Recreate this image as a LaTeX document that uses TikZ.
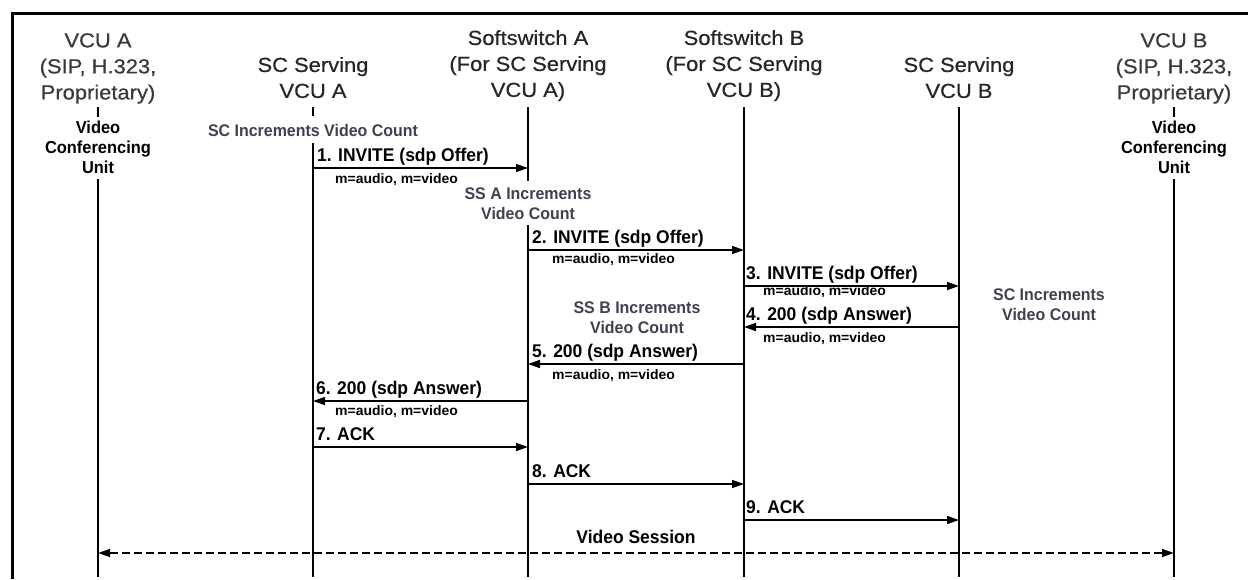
\documentclass[tikz,border=0pt]{standalone}
\usepackage{fontspec}
\setmainfont{Liberation Sans}
\newfontfamily\hdrfont[FakeStretch=1.08,FakeBold=0.6]{Liberation Sans}
\newfontfamily\sdpfontfam[FakeStretch=1.02]{Liberation Sans}
\newfontfamily\condfont[FakeStretch=0.95]{Liberation Sans}
\usetikzlibrary{arrows.meta}
\definecolor{hdrgray}{HTML}{262626}
\definecolor{vcugray}{HTML}{3A3A3A}
\definecolor{incgray}{HTML}{3E4250}
\tikzset{
 hdr/.style={font=\hdrfont\fontsize{20.3}{26}\selectfont, text=hdrgray, align=center, anchor=north, inner sep=0pt},
 unitlbl/.style={font=\condfont\bfseries\fontsize{17.3}{20}\selectfont, align=center, anchor=north, inner sep=0pt},
 inc/.style={font=\condfont\bfseries\fontsize{16.8}{19.5}\selectfont, text=incgray, align=center, anchor=north, inner sep=0pt},
 msglbl/.style={font=\condfont\bfseries\fontsize{18.4}{20}\selectfont, anchor=base west, inner sep=0pt},
 sdp/.style={font=\sdpfontfam\bfseries\fontsize{13.7}{14}\selectfont, anchor=base west, inner sep=0pt},
 life/.style={line width=1.6pt},
 msg/.style={line width=1.6pt, -{Triangle[length=12pt,width=8pt]}},
 sess/.style={line width=1.6pt, dash pattern=on 8pt off 4pt, {Triangle[length=12pt,width=8pt]}-{Triangle[length=12pt,width=8pt]}},
 frame/.style={line width=3pt}
}
\begin{document}
\begin{tikzpicture}[x=1pt,y=-1pt]
\useasboundingbox (0,0) rectangle (1248,579);
% frame
\coordinate (fBL) at (12,579);
\coordinate (fTL) at (12,13);
\coordinate (fTR) at (1248,13);
\draw[frame] (fBL) -- (fTL) -- (fTR);

% headers
\node[hdr, text=vcugray] (hVA) at (98,33) {VCU A\\(SIP, H.323,\\Proprietary)};
\node[hdr] (hSA) at (313,57) {SC Serving\\VCU A};
\node[hdr] (hWA) at (528,30) {Softswitch A\\(For SC Serving\\VCU A)};
\node[hdr] (hWB) at (744,30) {Softswitch B\\(For SC Serving\\VCU B)};
\node[hdr] (hSB) at (959,57) {SC Serving\\VCU B};
\node[hdr, text=vcugray] (hVB) at (1174,33) {VCU B\\(SIP, H.323,\\Proprietary)};

% unit labels and increment notes
\node[unitlbl] (uA) at (98,121) {Video\\Conferencing\\Unit};
\node[unitlbl] (uB) at (1174,121) {Video\\Conferencing\\Unit};
\node[inc] (iSA) at (313,124) {SC Increments Video Count};
\node[inc] (iWA) at (528,188) {SS A Increments\\Video Count};
\node[inc] (iWB) at (637,302) {SS B Increments\\Video Count};
\node[inc] (iSB) at (1049,289) {SC Increments\\Video Count};

% lifeline coordinates
\coordinate (vA0) at (98,107);  \coordinate (vA1) at (98,117);  \coordinate (vA2) at (98,179);  \coordinate (vAe) at (98,577);
\coordinate (sA0) at (313,107); \coordinate (sA1) at (313,116); \coordinate (sA2) at (313,143); \coordinate (sAe) at (313,577);
\coordinate (wA0) at (528,107); \coordinate (wA1) at (528,181); \coordinate (wA2) at (528,225); \coordinate (wAe) at (528,577);
\coordinate (wB0) at (744,107); \coordinate (wBe) at (744,577);
\coordinate (sB0) at (959,107); \coordinate (sBe) at (959,577);
\coordinate (vB0) at (1174,107); \coordinate (vB1) at (1174,117); \coordinate (vB2) at (1174,179); \coordinate (vBe) at (1174,577);

\draw[life] (vA0) -- (vA1);
\draw[life] (vA2) -- (vAe);
\draw[life] (sA0) -- (sA1);
\draw[life] (sA2) -- (sAe);
\draw[life] (wA0) -- (wA1);
\draw[life] (wA2) -- (wAe);
\draw[life] (wB0) -- (wBe);
\draw[life] (sB0) -- (sBe);
\draw[life] (vB0) -- (vB1);
\draw[life] (vB2) -- (vBe);

% message levels
\coordinate (y1) at (0,168);
\coordinate (y2) at (0,250);
\coordinate (y3) at (0,286);
\coordinate (y4) at (0,327);
\coordinate (y5) at (0,364);
\coordinate (y6) at (0,401);
\coordinate (y7) at (0,447);
\coordinate (y8) at (0,484);
\coordinate (y9) at (0,520);
\coordinate (ys) at (0,553);

\draw[msg] (sA0 |- y1) -- (wA0 |- y1);
\node[msglbl] (l1) at (317,161) {1. INVITE (sdp Offer)};
\node[sdp] (s1) at (335,183) {m=audio, m=video};

\draw[msg] (wA0 |- y2) -- (wB0 |- y2);
\node[msglbl] (l2) at (532,243) {2. INVITE (sdp Offer)};
\node[sdp] (s2) at (552,263) {m=audio, m=video};

\draw[msg] (wB0 |- y3) -- (sB0 |- y3);
\node[msglbl] (l3) at (746,279) {3. INVITE (sdp Offer)};
\node[sdp] (s3) at (763,295) {m=audio, m=video};

\draw[msg] (sB0 |- y4) -- (wB0 |- y4);
\node[msglbl] (l4) at (746,320) {4. 200 (sdp Answer)};
\node[sdp] (s4) at (763,342) {m=audio, m=video};

\draw[msg] (wB0 |- y5) -- (wA0 |- y5);
\node[msglbl] (l5) at (532,357) {5. 200 (sdp Answer)};
\node[sdp] (s5) at (552,379) {m=audio, m=video};

\draw[msg] (wA0 |- y6) -- (sA0 |- y6);
\node[msglbl] (l6) at (316,394) {6. 200 (sdp Answer)};
\node[sdp] (s6) at (335,415) {m=audio, m=video};

\draw[msg] (sA0 |- y7) -- (wA0 |- y7);
\node[msglbl] (l7) at (316,440) {7. ACK};

\draw[msg] (wA0 |- y8) -- (wB0 |- y8);
\node[msglbl] (l8) at (532,477) {8. ACK};

\draw[msg] (wB0 |- y9) -- (sB0 |- y9);
\node[msglbl] (l9) at (746,513) {9. ACK};

\node[msglbl, anchor=base] (vs) at (636,543) {Video Session};
\draw[sess] (vA0 |- ys) -- (vB0 |- ys);
\end{tikzpicture}
\end{document}
